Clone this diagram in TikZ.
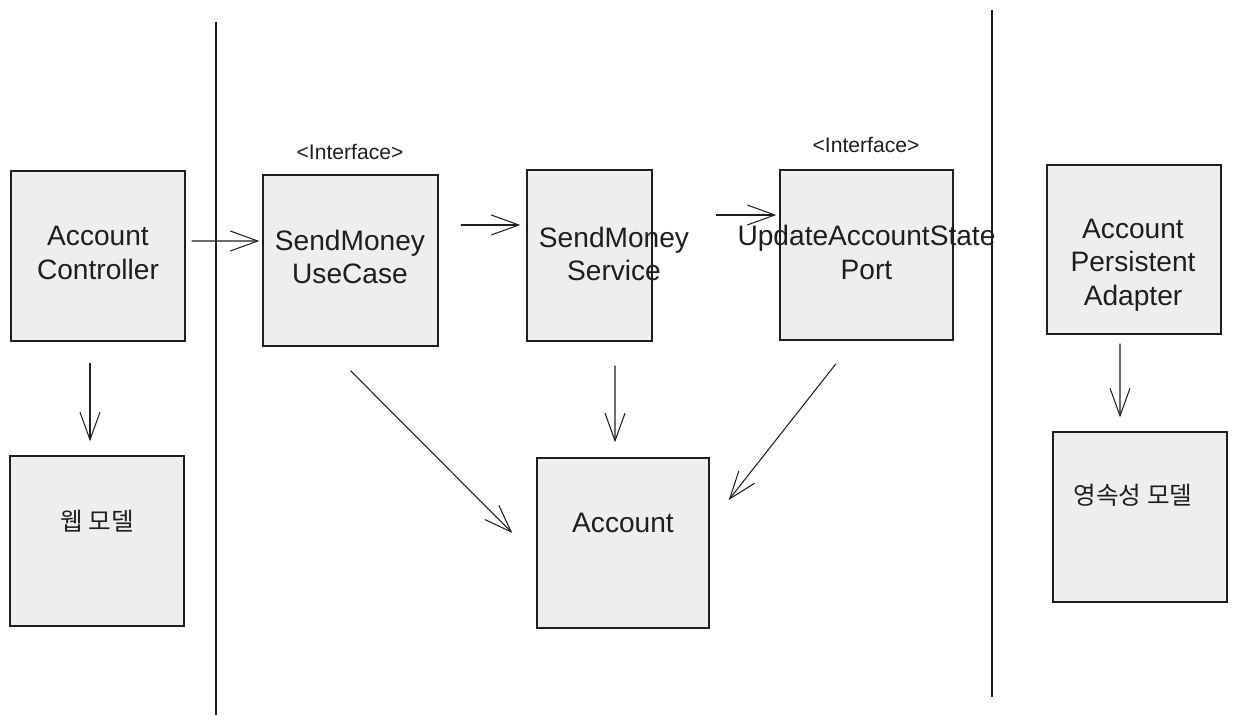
\documentclass[tikz,border=0pt]{standalone}
\usepackage{fontspec}
\setmainfont{Liberation Sans}
\newfontfamily\krfont{Noto Sans CJK KR}
\usetikzlibrary{arrows.meta}
\definecolor{boxfill}{HTML}{EEEEEE}
\definecolor{ink}{HTML}{1E1E1E}

\begin{document}
\begin{tikzpicture}[>={Straight Barb[length=5.5mm,width=4mm]},
    box/.style={draw=ink,fill=boxfill,line width=0.8pt,minimum width=3.48cm,minimum height=3.4cm,inner sep=0pt},
    txt/.style={text=ink,align=center,font=\fontsize{16}{19}\selectfont},
    krtxt/.style={text=ink,font=\krfont\fontsize{14}{17}\selectfont},
    tag/.style={text=ink,font=\fontsize{12}{14}\selectfont},
    link/.style={->,draw=ink,line width=0.6pt},
    sep/.style={draw=ink,line width=0.8pt}]
                \useasboundingbox (0,0) rectangle (24.72,14.5);

                \draw[sep] (4.32,14.06)--(4.32,0.2);
                \draw[sep] (19.84,14.3)--(19.84,0.56);

                \node[box] (ctrl) at(1.96,9.38) {};
                \node[box,minimum width=3.5cm,minimum height=3.42cm] (usecase) at(7.01,9.29) {};
                \node[box,minimum width=2.5cm,minimum height=3.42cm] (service) at(11.79,9.39) {};
                \node[box,minimum width=3.46cm] (port) at(17.33,9.4) {};
                \node[box,minimum height=3.38cm] (adapter) at(22.68,9.51) {};

                \node[box] (web) at(1.94,3.68) {};
                \node[box,minimum width=3.44cm] (account) at(12.46,3.64) {};
                \node[box] (persist) at(22.8,4.16) {};

                \node[txt] (ctrltxt) at(1.96,9.44) {Account\\Controller};
                \node[txt] (usecasetxt) at(7.0,9.36) {SendMoney\\UseCase};
                \node[txt] (servicetxt) at(12.28,9.42) {SendMoney\\Service};
                \node[txt] (porttxt) at(17.33,9.45) {UpdateAccountState\\Port};
                \node[txt] (adaptertxt) at(22.66,9.2) {Account\\Persistent\\Adapter};

                \node[krtxt] (webtxt) at(1.94,4.08) {웹 모델};
                \node[txt] (accounttxt) at(12.46,4.04) {Account};
                \node[krtxt] (persisttxt) at(22.66,4.6) {영속성 모델};

                \node[tag] (usecasetag) at(7.0,11.46) {<Interface>};
                \node[tag] (porttag) at(17.32,11.6) {<Interface>};

                \draw[link] ([shift={(0.12,0.3)}]ctrl.east)--([shift={(-0.06,0.39)}]usecase.west);
                \draw[link] ([shift={(0.44,0.71)}]usecase.east)--([shift={(-0.12,0.61)}]service.west);
                \draw[link] ([shift={(1.26,0.81)}]service.east)--([shift={(-0.06,0.8)}]port.west);

                \draw[link] ([shift={(-0.16,-0.42)}]ctrl.south)--([shift={(-0.14,0.28)}]web.north);
                \draw[link] ([shift={(0,-0.48)}]usecase.south)--([shift={(-0.48,0.2)}]account.west);
                \draw[link] ([shift={(0.51,-0.48)}]service.south)--([shift={(-0.16,0.3)}]account.north);
                \draw[link] ([shift={(-0.61,-0.46)}]port.south)--([shift={(0.38,0.86)}]account.east);
                \draw[link] ([shift={(-0.28,-0.18)}]adapter.south)--([shift={(-0.4,0.28)}]persist.north);
            \end{tikzpicture}
\end{document}
